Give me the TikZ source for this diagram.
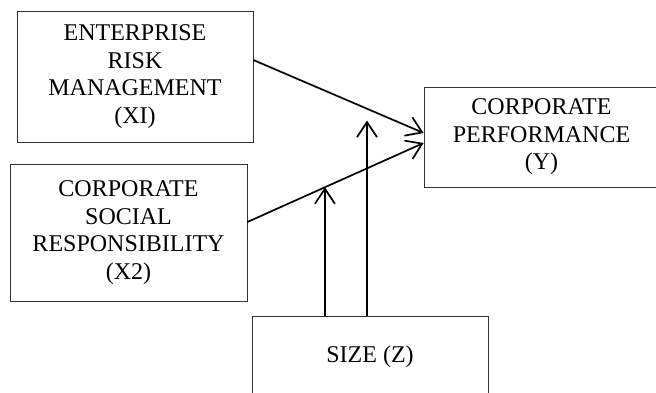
\documentclass[tikz,border=0pt]{standalone}
\usepackage{fontspec}
\setmainfont{Liberation Serif}
\usetikzlibrary{calc,arrows.meta}

\begin{document}
\begin{tikzpicture}[x=1pt,y=1pt,
    box/.style={draw=black!80, line width=0.8pt, align=center, inner sep=0pt, font=\fontsize{24}{27.5}\selectfont},
    link/.style={line width=1.7pt, -{Straight Barb[length=15pt,width=20pt]}}]
    \useasboundingbox (0,0) rectangle (656,392);
    \node[box, minimum width=236, minimum height=131] (erm) at (135,315.5) {ENTERPRISE\\RISK\\MANAGEMENT\\(XI)};
    \node[box, minimum width=237, minimum height=137] (csr) at (128.5,159.5) {CORPORATE\\SOCIAL\\RESPONSIBILITY\\(X2)};
    \node[box, minimum width=235, minimum height=100] (perf) at (541.5,255) {CORPORATE\\PERFORMANCE\\(Y)};
    \node[box, minimum width=236, minimum height=82] (size) at (370,35) {SIZE (Z)};
    % direct effects
    \coordinate (c1) at ([yshift=10.5]csr.east);
    \coordinate (p2) at ([yshift=-6]perf.west);
    \draw[link] ([yshift=16.5]erm.east) -- ([yshift=4]perf.west);
    \draw[link] (c1) -- (p2);
    % moderation by size
    \coordinate (m1) at ($(c1)!0.44!(p2)$);
    \draw[link] (m1 |- size.north) -- (m1);
    \draw[link] ([xshift=-3]size.north) -- ++(0,195);
\end{tikzpicture}
\end{document}
